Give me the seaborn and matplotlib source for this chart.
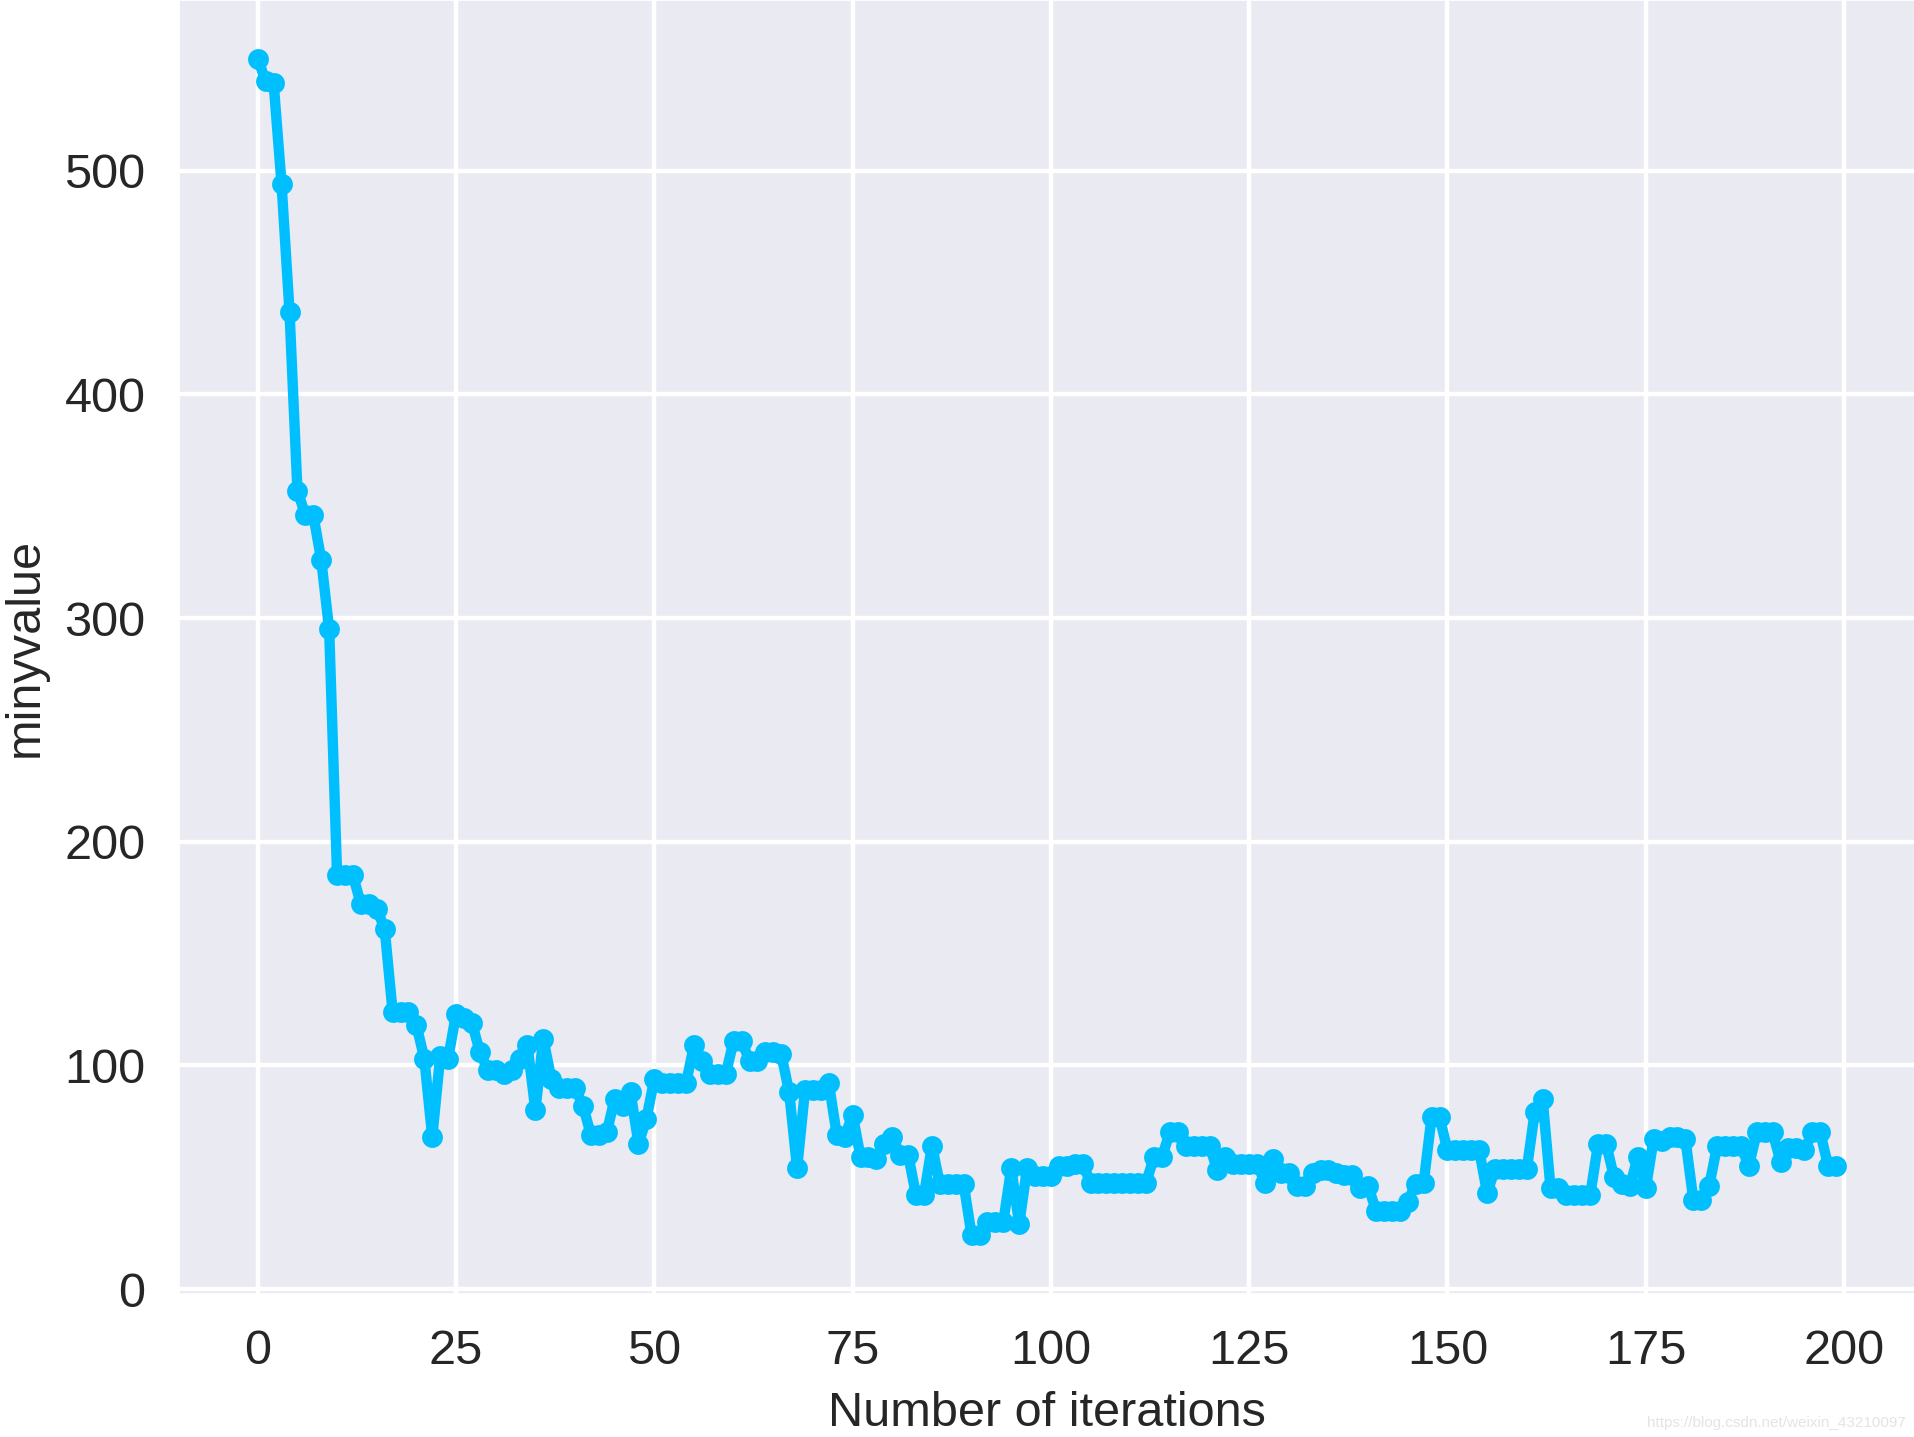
import numpy as np
import pandas as pd
import matplotlib
matplotlib.use("Agg")
import matplotlib.pyplot as plt
import seaborn as sns

# best objective value found at each iteration
minyvalue = [
    550, 540, 539, 494, 437, 357, 346, 346, 326, 295,
    185, 185, 185, 172, 172, 170, 161, 124, 124, 124,
    118, 103, 68, 104, 103, 123, 121, 119, 106, 98,
    98, 96, 98, 103, 109, 80, 112, 94, 90, 90,
    90, 82, 69, 69, 70, 85, 82, 88, 65, 76,
    94, 92, 92, 92, 92, 109, 102, 96, 96, 96,
    111, 111, 102, 102, 106, 106, 105, 88, 54, 89,
    89, 89, 92, 69, 68, 78, 59, 59, 58, 65,
    68, 60, 60, 42, 42, 64, 47, 47, 47, 47,
    24, 24, 30, 30, 30, 54, 29, 54, 50.5, 50.5,
    50.5, 55, 55, 56, 56, 47.5, 47.5, 47.5, 47.5, 47.5,
    47.5, 47.5, 47.5, 59, 59, 70, 70, 64, 64, 64,
    64, 53, 59, 56, 56, 56, 56, 47.5, 58, 52,
    52, 46, 46, 52, 53, 53, 52, 51, 51, 45,
    46, 35, 35, 35, 35, 39, 47, 47.5, 77, 77,
    62, 62, 62, 62, 62, 43, 53.5, 53.5, 53.5, 53.5,
    53.5, 79, 85, 45, 45, 42, 42, 42, 42, 65,
    65, 50, 47, 46, 59, 45, 67, 66, 68, 68,
    67, 40, 40, 46, 64, 64, 64, 64, 55, 70,
    70, 70, 57, 63, 63, 62, 70, 70, 55, 55,
]
iterations = list(range(len(minyvalue)))

df = pd.DataFrame({'Number of iterations': iterations, 'minyvalue': minyvalue})

sns.set_theme(style='darkgrid', rc={'grid.linewidth': 3.2})
plt.rcParams['font.family'] = ['Liberation Sans', 'DejaVu Sans']

fig = plt.figure(figsize=(19.15, 14.37), dpi=100)
ax = fig.add_axes([0.0934, 0.0994, 0.9066, 0.9006])

sns.lineplot(data=df, x='Number of iterations', y='minyvalue', marker='o',
             color='deepskyblue', linewidth=7.5, markersize=15,
             markeredgewidth=0, ax=ax)

ax.set_yticks([0, 100, 200, 300, 400, 500])
ax.set_xticks([0, 25, 50, 75, 100, 125, 150, 175, 200])
ax.tick_params(axis='x', labelsize=35, pad=19)
ax.tick_params(axis='y', labelsize=35, pad=18)
ax.set_xlabel('Number of iterations', fontsize=35, labelpad=12)
ax.set_ylabel('minyvalue', fontsize=35, labelpad=12)

fig.text(0.995, 0.005, 'https://blog.csdn.net/weixin_43210097', ha='right',
         va='bottom', fontsize=11, color='#e4e4e4')

fig.savefig('out.png', dpi=100)
